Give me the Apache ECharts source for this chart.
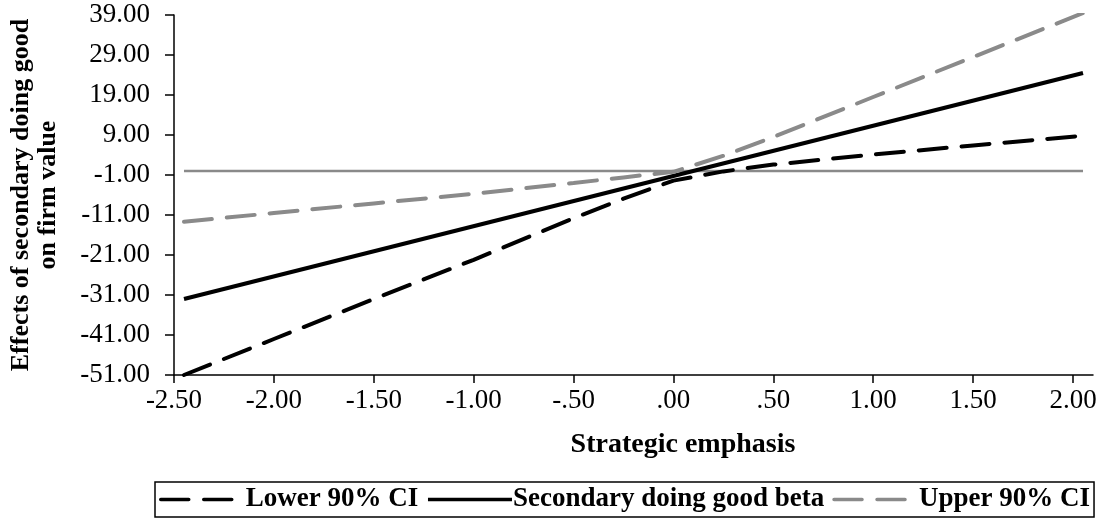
<!DOCTYPE html>
<html><head><meta charset="utf-8">
<script src="https://cdn.jsdelivr.net/npm/echarts@6/dist/echarts.min.js"></script>
<style>html,body{margin:0;padding:0;background:#fff}#c{width:1104px;height:519px}</style>
</head><body><div id="c"></div>
<script>
// x positions of the confidence-band points (Strategic emphasis)
const ciX = [-2.45, -2.0, -1.5, -1.0, -0.5, -0.25, 0, 0.25, 0.5, 1.0, 1.5, 2.05];
const lowerCI = [-51.0, -42.0, -32.0, -22.2, -11.8, -6.9, -2.4, -0.1, 1.6, 4.1, 6.4, 8.8];
const upperCI = [-12.7, -10.5, -8.1, -5.7, -3.0, -1.6, -0.2, 3.8, 8.5, 18.5, 28.5, 39.5];
const betaX = [-2.45, 2.05];
const betaY = [-32.0, 24.5];
const zeroX = [-2.45, 2.05];
const zeroY = [0, 0];
const xTicks = [-2.5, -2.0, -1.5, -1.0, -0.5, 0, 0.5, 1.0, 1.5, 2.0];
const yTicks = [-51, -41, -31, -21, -11, -1, 9, 19, 29, 39];
const seriesNames = ['Lower 90% CI', 'Secondary doing good beta', 'Upper 90% CI'];
const xTitle = 'Strategic emphasis';
const yTitle = 'Effects of secondary doing good\non firm value';

const FONT = '"Liberation Serif", "Times New Roman", serif';
const pairs = (xs, ys) => xs.map((x, i) => [x, ys[i]]);
function fmtX(v) {
  let s = Math.abs(v).toFixed(2);
  if (s.startsWith('0.')) s = s.slice(1);
  return (v < 0 ? '-' : '') + s;
}
const chart = echarts.init(document.getElementById('c'), null, {renderer: 'canvas'});
const grey = '#8a8a8a';
chart.setOption({
  animation: false,
  backgroundColor: '#fff',
  grid: {left: 172, right: 11, top: 15, bottom: 144, containLabel: false},
  xAxis: {
    type: 'value', min: -2.5, max: 2.1,
    axisLine: {show: true, onZero: false, lineStyle: {color: '#000', width: 1.5}},
    axisTick: {show: true, length: 8, lineStyle: {color: '#000', width: 1.5}, customValues: xTicks},
    axisLabel: {customValues: xTicks, formatter: fmtX, color: '#000', fontFamily: FONT, fontSize: 27, margin: 12},
    splitLine: {show: false}
  },
  yAxis: {
    type: 'value', min: -51, max: 39,
    axisLine: {show: true, onZero: false, lineStyle: {color: '#000', width: 1.5}},
    axisTick: {show: true, length: 9, lineStyle: {color: '#000', width: 1.5}, customValues: yTicks},
    axisLabel: {customValues: yTicks, formatter: v => v.toFixed(2), color: '#000', fontFamily: FONT, fontSize: 27, margin: 24},
    splitLine: {show: false},
    name: yTitle, nameLocation: 'middle', nameRotate: 90, nameGap: 112,
    nameTextStyle: {color: '#000', fontFamily: FONT, fontSize: 26, fontWeight: 'bold', lineHeight: 27, align: 'center'}
  },
  legend: {
    data: seriesNames,
    left: 155, right: 0, bottom: 2,
    itemWidth: 84, itemHeight: 14, itemGap: 8,
    borderColor: '#000', borderWidth: 1.5, borderRadius: 0,
    padding: [4, 4, 4, 4],
    itemStyle: {opacity: 0},
    lineStyle: {width: 3.5},
    textStyle: {color: '#000', fontFamily: FONT, fontSize: 27, fontWeight: 'bold', padding: [0, 0, 0, -4]}
  },
  graphic: [{
    type: 'text', x: 683, y: 431,
    style: {text: xTitle, textAlign: 'center', fill: '#000', font: 'bold 28px ' + FONT}
  }],
  series: [
    {name: 'zero', type: 'line', data: pairs(zeroX, zeroY), symbol: 'none', z: 1,
     lineStyle: {color: grey, width: 2.5}, itemStyle: {color: grey}},
    {name: seriesNames[0], type: 'line', data: pairs(ciX, lowerCI), symbol: 'none',
     lineStyle: {color: '#000', width: 4, type: [28, 15], cap: 'round'}, itemStyle: {color: '#000'}},
    {name: seriesNames[1], type: 'line', data: pairs(betaX, betaY), symbol: 'none',
     lineStyle: {color: '#000', width: 4}, itemStyle: {color: '#000'}},
    {name: seriesNames[2], type: 'line', data: pairs(ciX, upperCI), symbol: 'none',
     lineStyle: {color: grey, width: 4, type: [28, 15], cap: 'round'}, itemStyle: {color: grey}}
  ]
});
</script></body></html>
